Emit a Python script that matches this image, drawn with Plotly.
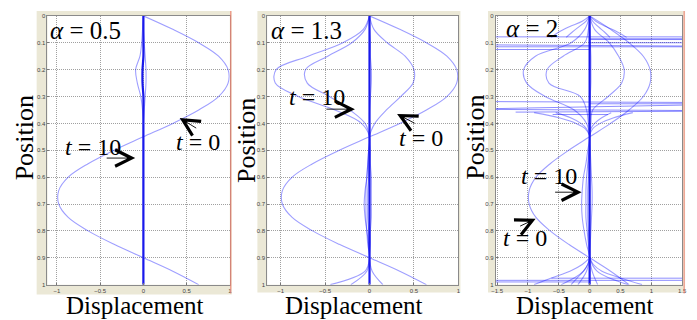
import plotly.graph_objects as go

# positions along the string (shared grid for the full-length snapshots)
POS = [0.0, 0.05, 0.1, 0.15, 0.2, 0.25, 0.3, 0.35, 0.4, 0.45, 0.5,
       0.55, 0.6, 0.65, 0.7, 0.75, 0.8, 0.85, 0.9, 0.95, 1.0]

# initial displacement (t = 0), same in every panel
WAVE_T0 = [0.0, 0.34, 0.64, 0.87, 0.98, 0.98, 0.87, 0.64, 0.34, 0.0, -0.34,
           -0.64, -0.87, -0.98, -0.98, -0.87, -0.64, -0.34, 0.0, 0.34, 0.64]

# alpha = 0.5 : later snapshots collapse onto zero
A05_MID_L = [0.0, -0.01, -0.02, -0.04, -0.09, -0.07, -0.03, -0.01, 0.0, 0.0, 0.0,
             0.0, 0.0, 0.0, 0.0, 0.0, 0.0, 0.0, 0.0, 0.0, 0.0]
A05_MID_R = [0.0, 0.0, 0.01, 0.02, 0.03, 0.03, 0.02, 0.01, 0.0, 0.0, 0.0,
             0.0, 0.0, 0.0, 0.0, 0.0, 0.0, 0.0, 0.0, 0.0, 0.0]
A05_T10 = [0.0, 0.0, 0.0, 0.0, -0.01, -0.01, 0.0, 0.0, 0.0, 0.0, 0.0,
           0.0, 0.0, 0.0, 0.0, 0.0, 0.0, 0.0, 0.0, 0.0, 0.0]

# alpha = 1.3
A13_OUTER = [0.0, -0.07, -0.3, -0.69, -1.05, -1.06, -0.8, -0.39, -0.09, 0.0, -0.01,
             -0.02, -0.03, -0.04, -0.04, -0.04, -0.03, -0.02, 0.0, -0.05, -0.44]
A13_INNER_L = [0.0, -0.05, -0.2, -0.47, -0.72, -0.7, -0.45, -0.22, -0.05, 0.0, 0.0,
               -0.01, -0.01, -0.02, -0.02, -0.02, -0.01, -0.01, 0.0, -0.03, -0.21]
A13_INNER_R = [0.0, 0.05, 0.2, 0.4, 0.5, 0.49, 0.35, 0.19, 0.06, 0.0, 0.01,
               0.01, 0.02, 0.02, 0.02, 0.02, 0.01, 0.01, 0.0, 0.03, 0.15]
A13_LATE = [0.0, 0.0, 0.01, 0.01, 0.02, 0.02, 0.01, 0.0, 0.0, 0.0, -0.01,
            -0.02, -0.03, -0.05, -0.06, -0.05, -0.03, -0.01, 0.0, 0.0, 0.0]
A13_T10 = [0.0, 0.0, 0.0, 0.0, 0.0, 0.0, 0.0, 0.0, 0.0, 0.0, 0.0,
           0.0, 0.0, 0.0, 0.0, 0.0, 0.0, 0.0, 0.0, 0.0, 0.0]

# alpha = 2
A2_OUTER_L = [0.0, -0.08, -0.3, -0.88, -1.07, -1.02, -0.72, -0.25, -0.05, 0.0, -0.01,
              -0.02, -0.02, -0.03, -0.03, -0.03, -0.02, -0.01, 0.0, -0.1, -0.46]
A2_INNER_L = [0.0, -0.02, -0.08, -0.43, -0.69, -0.66, -0.15, -0.05, -0.02, 0.0, -0.03,
              -0.06, -0.1, -0.12, -0.13, -0.12, -0.09, -0.05, 0.0, -0.05, -0.19]
A2_INNER_R = [0.0, 0.08, 0.32, 0.47, 0.56, 0.52, 0.3, 0.05, 0.02, 0.0, 0.01,
              0.02, 0.03, 0.04, 0.04, 0.03, 0.02, 0.01, 0.0, 0.04, 0.13]
A2_LATE = [0.0, 0.0, 0.01, 0.02, 0.02, 0.02, 0.01, 0.0, 0.0, 0.0, -0.01,
           -0.03, -0.05, -0.06, -0.06, -0.06, -0.04, -0.02, 0.0, 0.12, 0.62]
A2_T10 = [0.0, 0.0, 0.0, 0.0, 0.0, 0.0, 0.0, 0.0, 0.0, 0.0, 0.0,
          0.0, 0.0, 0.0, 0.0, 0.0, 0.0, 0.0, 0.0, 0.0, 0.0]

FAN_TOP_POS = [0.0, 0.02, 0.04, 0.06, 0.08]
FAN_TOP = [
    [0.0, -0.12, -0.33, -0.5, -0.62],
    [0.0, -0.06, -0.17, -0.28, -0.38],
    [0.0, 0.05, 0.14, 0.24, 0.33],
    [0.0, 0.1, 0.27, 0.45, 0.6],
]
FAN_MID_POS = [0.36, 0.38, 0.4, 0.42, 0.445]
FAN_MID = [
    [-0.9, -0.48, -0.22, -0.07, 0.0],
    [-0.55, -0.3, -0.14, -0.05, 0.0],
    [0.35, 0.19, 0.08, 0.02, 0.0],
    [0.7, 0.38, 0.17, 0.05, 0.0],
]
FAN_BOT_POS = [0.9, 0.925, 0.95, 0.975, 1.0]
FAN_BOT = [
    [0.0, -0.12, -0.32, -0.62, -0.9],
    [0.0, 0.06, 0.2, 0.5, 0.85],
    [0.0, -0.03, -0.1, -0.2, -0.3],
]

# near-horizontal numerical blow-ups in the alpha = 2 run
GLITCH_X0 = [-1.52, 0.0, 0.0, 0.0, -1.52, -1.52, -1.52, -1.52, 0.0, -1.52, -1.52, -1.2, -0.6, -0.62, -1.52, -1.52]
GLITCH_X1 = [1.5, 1.5, 1.5, 1.5, 1.5, 1.5, 0.0, 1.5, 1.5, 1.5, 1.5, 1.5, 0.3, 1.5, 1.5, 0.0]
GLITCH_Y0 = [0.078, 0.085, 0.088, 0.1, 0.108, 0.115, 0.125, 0.319, 0.327, 0.345, 0.348, 0.358, 0.367, 0.976, 0.984, 0.99]
GLITCH_Y1 = [0.078, 0.085, 0.088, 0.1, 0.112, 0.115, 0.125, 0.322, 0.327, 0.332, 0.352, 0.355, 0.367, 0.976, 0.984, 0.99]

X_TICKS_1 = [-1, -0.5, 0, 0.5, 1]
X_TICKS_3 = [-1.5, -1, -0.5, 0, 0.5, 1, 1.5]
Y_TICKS = [0, 0.1, 0.2, 0.3, 0.4, 0.5, 0.6, 0.7, 0.8, 0.9, 1]

# the page puts the plot 8 px in from the top-left corner
OFF = 8
W, H = 697 - OFF, 320 - OFF
LIGHT = "rgba(0,0,255,0.38)"
DARK = "rgb(25,25,235)"
SERIF = "Liberation Serif, Times New Roman, serif"


def px(x):
    return (x - OFF) / W


def py(y):
    return 1 - (y - OFF) / H


fig = go.Figure()


def curve(xs, ys, n, color=LIGHT, width=1.1):
    sfx = "" if n == 1 else str(n)
    fig.add_trace(go.Scatter(
        x=xs, y=ys, mode="lines", showlegend=False, hoverinfo="skip",
        line=dict(color=color, width=width, shape="spline", smoothing=1.0),
        xaxis="x" + sfx, yaxis="y" + sfx,
    ))


# panel 1
for c in [WAVE_T0, A05_MID_L, A05_MID_R]:
    curve(c, POS, 1)
curve(A05_T10, POS, 1, DARK, 2.2)

# panel 2
for c in [WAVE_T0, A13_OUTER, A13_INNER_L, A13_INNER_R, A13_LATE]:
    curve(c, POS, 2)
curve(A13_T10, POS, 2, DARK, 2.2)

# panel 3
for c in [WAVE_T0, A2_OUTER_L, A2_INNER_L, A2_INNER_R, A2_LATE]:
    curve(c, POS, 3)
for c in FAN_TOP:
    curve(c, FAN_TOP_POS, 3)
for c in FAN_MID:
    curve(c, FAN_MID_POS, 3)
for c in FAN_BOT:
    curve(c, FAN_BOT_POS, 3)
for x0, x1, y0, y1 in zip(GLITCH_X0, GLITCH_X1, GLITCH_Y0, GLITCH_Y1):
    curve([x0, x1], [y0, y1], 3, "rgba(0,0,255,0.45)", 1.0)
curve(A2_T10, POS, 3, DARK, 2.2)

# axes
panels = [
    (1, 43, 228, [-1.11, 1.0], X_TICKS_1),
    (2, 266, 460, [-1.15, 1.0], X_TICKS_1),
    (3, 498, 687, [-1.52, 1.5], X_TICKS_3),
]
y_top, y_bot = 13, 287
tickfont = dict(family="Arial", size=6, color="#444")
axis_common = dict(
    showgrid=True, gridcolor="#a0a0a0", griddash="1px,1px", gridwidth=1,
    zeroline=False, showline=True, linecolor="#8a8a8a", mirror=True,
    ticks="inside", ticklen=2, tickcolor="#777", tickfont=tickfont,
    ticklabelstandoff=0,
)
shapes = []
# beige axes frames
for x0, x1, y0, y1 in [(32, 230, 8, 297), (256, 462, 8, 295), (490, 690, 8, 295)]:
    shapes.append(dict(type="rect", xref="paper", yref="paper", layer="below",
                       x0=px(x0), x1=px(x1), y0=py(y1), y1=py(y0),
                       fillcolor="#ebe8d6", line=dict(width=0)))
for n, left, right, xr, xt in panels:
    sfx = "" if n == 1 else str(n)
    fig.layout["xaxis" + sfx] = dict(
        domain=[px(left), px(right)], range=xr, anchor="y" + sfx,
        tickvals=xt, **axis_common)
    fig.layout["yaxis" + sfx] = dict(
        domain=[py(y_bot), py(y_top)], range=[1, 0], anchor="x" + sfx,
        tickvals=Y_TICKS, **axis_common)
    # white plotting area
    shapes.append(dict(type="rect", xref="paper", yref="paper", layer="below",
                       x0=px(left), x1=px(right), y0=py(y_bot), y1=py(y_top),
                       fillcolor="white", line=dict(width=0)))

# thin red edges left over from the screenshot
for xe in [229, 689]:
    shapes.append(dict(type="line", xref="paper", yref="paper",
                       x0=px(xe), x1=px(xe), y0=py(296), y1=py(8),
                       line=dict(color="#f08070", width=1)))

ann = []
# axis titles
for cx in [132, 354, 588]:
    ann.append(dict(text="Displacement", x=px(cx), y=py(308), xref="paper", yref="paper",
                    xanchor="center", yanchor="middle", showarrow=False,
                    font=dict(family=SERIF, size=25, color="black")))
for cx, cy in [(20, 137), (245, 140), (477, 137)]:
    ann.append(dict(text="Position", x=px(cx), y=py(cy), xref="paper", yref="paper",
                    xanchor="center", yanchor="middle", textangle=-90, showarrow=False,
                    font=dict(family=SERIF, size=26, color="black")))

# labels inside the panels
labels = [
    (1, "<i>α</i> = 0.5", -0.665, 0.055, 25), (1, "<i>t</i> = 10", -0.585, 0.489, 24),
    (1, "<i>t</i> = 0", 0.636, 0.471, 24),
    (2, "<i>α</i> = 1.3", -0.707, 0.055, 25), (2, "<i>t</i> = 10", -0.596, 0.30, 24),
    (2, "<i>t</i> = 0", 0.579, 0.456, 24),
    (3, "<i>α</i> = 2", -0.93, 0.047, 25), (3, "<i>t</i> = 10", -0.657, 0.595, 24),
    (3, "<i>t</i> = 0", -1.055, 0.825, 24),
]
for n, txt, x, y, size in labels:
    sfx = "" if n == 1 else str(n)
    ann.append(dict(text=txt, x=x, y=y, xref="x" + sfx, yref="y" + sfx, showarrow=False,
                    xanchor="center", yanchor="middle",
                    font=dict(family=SERIF, size=size, color="black")))

arrows = [
    (1, -0.095, 0.529, -30, 0), (1, 0.42, 0.38, 18, 11),
    (2, -0.164, 0.347, -30, 0), (2, 0.31, 0.365, 19, 10),
    (3, -0.13, 0.656, -28, 0), (3, -0.875, 0.755, -17, 8),
]
for n, x, y, ax, ay in arrows:
    sfx = "" if n == 1 else str(n)
    ann.append(dict(text="", x=x, y=y, xref="x" + sfx, yref="y" + sfx, ax=ax, ay=ay,
                    showarrow=True, arrowhead=5, arrowsize=3.6, arrowwidth=0.9,
                    arrowcolor="black"))

fig.update_layout(
    width=W, height=H, margin=dict(l=0, r=0, t=0, b=0),
    paper_bgcolor="white", plot_bgcolor="rgba(0,0,0,0)",
    shapes=shapes, annotations=ann, showlegend=False,
)

fig.write_html("out.html")
